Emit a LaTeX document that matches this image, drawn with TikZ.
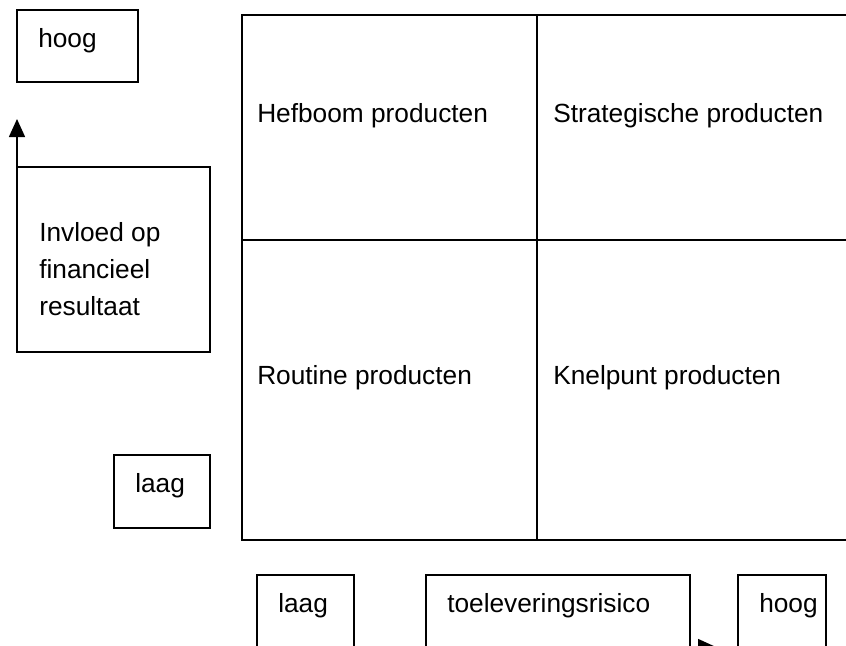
\documentclass[tikz,border=0pt]{standalone}
\usepackage{fontspec}
\setmainfont{Liberation Sans}
\usetikzlibrary{calc,arrows.meta}

\begin{document}
\begin{tikzpicture}[x=0.75pt,y=-0.75pt]

% ---------- styles ----------
\tikzset{
  box/.style ={draw=black,line width=1.1pt},
  grid/.style={draw=black,line width=1.7pt},
  lbl/.style ={anchor=base west,inner sep=0pt,align=left,
               font=\fontsize{19.7}{27.4}\selectfont},
  arr/.style ={draw=black,line width=1.1pt,-{Triangle[length=13.5pt,width=12pt]}}
}

% ---------- frame ----------
\clip (0,0) rectangle (846,646);

% ---------- coordinates ----------
% matrix
\coordinate (MTL) at (242,15);
\coordinate (MML) at (242,240);
\coordinate (MBL) at (242,540);
\coordinate (MTC) at (537,15);
\coordinate (MBC) at (537,540);
\coordinate (MTR) at (870,15);
\coordinate (MMR) at (870,240);
\coordinate (MBR) at (870,540);

% boxes (top left / bottom right)
\coordinate (hoogT1) at (17,10);   \coordinate (hoogT2) at (138,82);
\coordinate (inv1)   at (17,167);  \coordinate (inv2)   at (210,352);
\coordinate (laagL1) at (114,455); \coordinate (laagL2) at (210,528);
\coordinate (laagB1) at (257,575); \coordinate (laagB2) at (354,700);
\coordinate (toel1)  at (426,575); \coordinate (toel2)  at (690,700);
\coordinate (hoogB1) at (738,575); \coordinate (hoogB2) at (826,700);

% arrow ends
\coordinate (upTip)  at (17,119);
\coordinate (axisS)  at (354,647);
\coordinate (axisE)  at (716,647);

% ---------- matrix ----------
\draw[grid] (MTR) -- (MTL) -- (MBL) -- (MBR);
\draw[grid] (MML) -- (MMR);
\draw[grid] (MTC) -- (MBC);

% ---------- boxes ----------
\draw[box] (hoogT1) rectangle (hoogT2);
\draw[box] (inv1)   rectangle (inv2);
\draw[box] (laagL1) rectangle (laagL2);
\draw[box] (laagB1) rectangle (laagB2);
\draw[box] (toel1)  rectangle (toel2);
\draw[box] (hoogB1) rectangle (hoogB2);

% ---------- arrows ----------
\draw[arr] (inv1 |- inv2) -- (upTip);
\draw[arr] (axisS) -- (axisE);

% ---------- labels ----------
\node[lbl] (tHoogT) at (38,47)   {hoog};
% base of a multi-line node is its last line
\node[lbl] (tInv)   at (39,315)  {Invloed op\\financieel\\resultaat};
\node[lbl] (tLaagL) at (135,492) {laag};

\node[lbl] (tHef)   at (257,122) {Hefboom producten};
\node[lbl] (tStrat) at (553,122) {Strategische producten};
\node[lbl] (tRout)  at (257,384) {Routine producten};
\node[lbl] (tKnel)  at (553,384) {Knelpunt producten};

\node[lbl] (tLaagB) at (278,612) {laag};
\node[lbl] (tToel)  at (447,612) {toeleveringsrisico};
\node[lbl] (tHoogB) at (759,612) {hoog};

\end{tikzpicture}
\end{document}
